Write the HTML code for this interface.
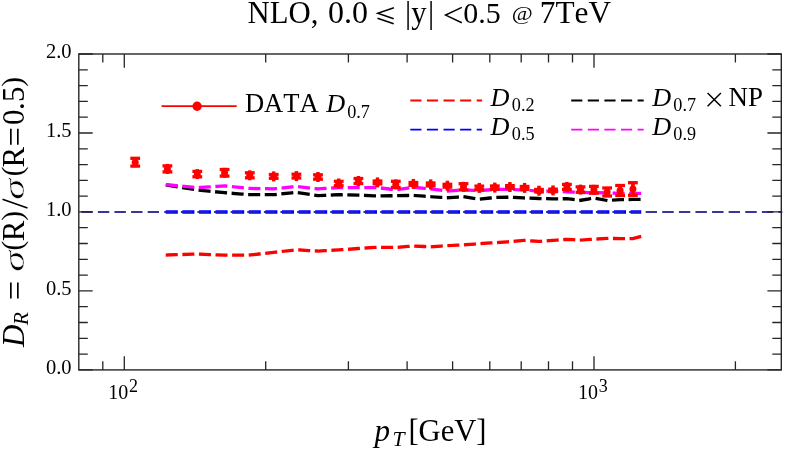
<!DOCTYPE html>
<html><head><meta charset="utf-8"><title>NLO D_R ratio</title>
<style>html,body{margin:0;padding:0;background:#fff;}text{font-kerning:none;}body{width:789px;height:453px;position:relative;overflow:hidden;font-family:"Liberation Serif",serif;}</style>
</head><body>
<svg width="789" height="453" viewBox="0 0 789 453" style="display:block;position:absolute;left:0;top:0;will-change:transform">
<rect x="0" y="0" width="789" height="453" fill="#fff"/>
<line x1="82.3" y1="212" x2="781.3" y2="212" stroke="#38359c" stroke-width="1.9" stroke-dasharray="9.35 7.25" stroke-linecap="square"/>
<polyline points="167.4,212.0 197.3,212.0 224.6,212.0 249.8,212.0 273.7,212.0 296.4,212.0 318.0,212.0 338.7,212.0 358.4,212.0 377.5,212.0 395.8,212.0 413.4,212.0 430.7,212.0 447.4,212.0 463.5,212.0 479.3,212.0 494.8,212.0 509.9,212.0 524.6,212.0 539.0,212.0 553.0,212.0 566.9,212.0 580.5,212.0 593.9,212.0 607.1,212.0 620.1,212.0 632.9,212.0 639.6,212.0" fill="none" stroke="#0000ff" stroke-width="3.3" stroke-dasharray="8.75 7.85" stroke-linecap="square" stroke-linejoin="miter"/>
<polyline points="167.4,255.0 197.3,254.0 224.6,255.2 249.8,255.0 273.7,252.4 296.4,249.8 318.0,251.1 338.7,249.9 358.4,248.5 377.5,247.3 395.8,247.5 413.4,246.0 430.7,246.8 447.4,245.6 463.5,244.9 479.3,243.7 494.8,242.7 509.9,241.6 524.6,240.4 539.0,241.4 553.0,240.4 566.9,239.3 580.5,240.1 593.9,239.2 607.1,238.4 620.1,238.6 632.9,238.6 639.6,236.8" fill="none" stroke="#ff0000" stroke-width="3.3" stroke-dasharray="8.75 7.85" stroke-linecap="square" stroke-linejoin="miter"/>
<polyline points="167.4,185.2 197.3,190.0 224.6,192.7 249.8,194.7 273.7,194.7 296.4,192.3 318.0,195.6 338.7,194.7 358.4,195.2 377.5,195.9 395.8,195.7 413.4,195.4 430.7,196.7 447.4,197.7 463.5,196.7 479.3,199.2 494.8,197.5 509.9,197.2 524.6,198.0 539.0,198.5 553.0,198.9 566.9,198.7 580.5,200.3 593.9,198.0 607.1,200.5 620.1,199.7 632.9,199.4 639.6,199.4" fill="none" stroke="#000000" stroke-width="3.3" stroke-dasharray="8.75 7.85" stroke-linecap="square" stroke-linejoin="miter"/>
<polyline points="167.4,184.7 197.3,187.7 224.6,185.9 249.8,188.4 273.7,188.9 296.4,186.5 318.0,188.9 338.7,187.6 358.4,187.6 377.5,187.6 395.8,189.8 413.4,187.3 430.7,188.9 447.4,191.1 463.5,189.8 479.3,190.6 494.8,189.4 509.9,189.3 524.6,190.1 539.0,191.1 553.0,191.1 566.9,191.8 580.5,192.3 593.9,192.7 607.1,192.8 620.1,193.4 632.9,193.4 639.6,193.4" fill="none" stroke="#ff00ff" stroke-width="3.3" stroke-dasharray="8.75 7.85" stroke-linecap="square" stroke-linejoin="miter"/>
<line x1="82.3" y1="212" x2="781.3" y2="212" stroke="#38359c" stroke-width="1.9" stroke-dasharray="9.35 7.25" stroke-linecap="square" opacity="0.5"/>
<g stroke="#ff0000" fill="#ff0000"><line x1="135.2" y1="158.3" x2="135.2" y2="166.1" stroke-width="2.9"/><line x1="135.2" y1="157.2" x2="135.2" y2="167.2" stroke-width="3.4"/><line x1="130.3" y1="158.3" x2="140.1" y2="158.3" stroke-width="3.3"/><line x1="130.3" y1="166.1" x2="140.1" y2="166.1" stroke-width="3.3"/><circle cx="135.2" cy="162.2" r="3.5" stroke="none"/></g>
<g stroke="#ff0000" fill="#ff0000"><line x1="167.4" y1="165.9" x2="167.4" y2="171.9" stroke-width="2.9"/><line x1="167.4" y1="163.9" x2="167.4" y2="173.9" stroke-width="3.4"/><line x1="162.5" y1="165.9" x2="172.3" y2="165.9" stroke-width="3.3"/><line x1="162.5" y1="171.9" x2="172.3" y2="171.9" stroke-width="3.3"/><circle cx="167.4" cy="168.9" r="3.5" stroke="none"/></g>
<g stroke="#ff0000" fill="#ff0000"><line x1="197.3" y1="171.4" x2="197.3" y2="176.8" stroke-width="2.9"/><line x1="197.3" y1="169.1" x2="197.3" y2="179.1" stroke-width="3.4"/><line x1="192.4" y1="171.4" x2="202.2" y2="171.4" stroke-width="3.3"/><line x1="192.4" y1="176.8" x2="202.2" y2="176.8" stroke-width="3.3"/><circle cx="197.3" cy="174.1" r="3.5" stroke="none"/></g>
<g stroke="#ff0000" fill="#ff0000"><line x1="224.6" y1="169.5" x2="224.6" y2="176.1" stroke-width="2.9"/><line x1="224.6" y1="167.8" x2="224.6" y2="177.8" stroke-width="3.4"/><line x1="219.7" y1="169.5" x2="229.5" y2="169.5" stroke-width="3.3"/><line x1="219.7" y1="176.1" x2="229.5" y2="176.1" stroke-width="3.3"/><circle cx="224.6" cy="172.8" r="3.5" stroke="none"/></g>
<g stroke="#ff0000" fill="#ff0000"><line x1="249.8" y1="172.8" x2="249.8" y2="177.8" stroke-width="2.9"/><line x1="249.8" y1="170.3" x2="249.8" y2="180.3" stroke-width="3.4"/><line x1="244.9" y1="172.8" x2="254.7" y2="172.8" stroke-width="3.3"/><line x1="244.9" y1="177.8" x2="254.7" y2="177.8" stroke-width="3.3"/><circle cx="249.8" cy="175.3" r="3.5" stroke="none"/></g>
<g stroke="#ff0000" fill="#ff0000"><line x1="273.7" y1="174.5" x2="273.7" y2="178.3" stroke-width="2.9"/><line x1="273.7" y1="171.4" x2="273.7" y2="181.4" stroke-width="3.4"/><line x1="268.8" y1="174.5" x2="278.6" y2="174.5" stroke-width="3.3"/><line x1="268.8" y1="178.3" x2="278.6" y2="178.3" stroke-width="3.3"/><circle cx="273.7" cy="176.4" r="3.5" stroke="none"/></g>
<g stroke="#ff0000" fill="#ff0000"><line x1="296.4" y1="174.2" x2="296.4" y2="178.0" stroke-width="2.9"/><line x1="296.4" y1="171.1" x2="296.4" y2="181.1" stroke-width="3.4"/><line x1="291.5" y1="174.2" x2="301.3" y2="174.2" stroke-width="3.3"/><line x1="291.5" y1="178.0" x2="301.3" y2="178.0" stroke-width="3.3"/><circle cx="296.4" cy="176.1" r="3.5" stroke="none"/></g>
<g stroke="#ff0000" fill="#ff0000"><line x1="318.0" y1="174.8" x2="318.0" y2="179.2" stroke-width="2.9"/><line x1="318.0" y1="172.0" x2="318.0" y2="182.0" stroke-width="3.4"/><line x1="313.1" y1="174.8" x2="322.9" y2="174.8" stroke-width="3.3"/><line x1="313.1" y1="179.2" x2="322.9" y2="179.2" stroke-width="3.3"/><circle cx="318.0" cy="177.0" r="3.5" stroke="none"/></g>
<g stroke="#ff0000" fill="#ff0000"><line x1="338.7" y1="181.3" x2="338.7" y2="185.7" stroke-width="2.9"/><line x1="338.7" y1="178.5" x2="338.7" y2="188.5" stroke-width="3.4"/><line x1="333.8" y1="181.3" x2="343.6" y2="181.3" stroke-width="3.3"/><line x1="333.8" y1="185.7" x2="343.6" y2="185.7" stroke-width="3.3"/><circle cx="338.7" cy="183.5" r="3.5" stroke="none"/></g>
<g stroke="#ff0000" fill="#ff0000"><line x1="358.4" y1="178.5" x2="358.4" y2="183.5" stroke-width="2.9"/><line x1="358.4" y1="176.0" x2="358.4" y2="186.0" stroke-width="3.4"/><line x1="353.5" y1="178.5" x2="363.3" y2="178.5" stroke-width="3.3"/><line x1="353.5" y1="183.5" x2="363.3" y2="183.5" stroke-width="3.3"/><circle cx="358.4" cy="181.0" r="3.5" stroke="none"/></g>
<g stroke="#ff0000" fill="#ff0000"><line x1="377.5" y1="181.0" x2="377.5" y2="183.8" stroke-width="2.9"/><line x1="377.5" y1="177.4" x2="377.5" y2="187.4" stroke-width="3.4"/><line x1="372.6" y1="181.0" x2="382.4" y2="181.0" stroke-width="3.3"/><line x1="372.6" y1="183.8" x2="382.4" y2="183.8" stroke-width="3.3"/><circle cx="377.5" cy="182.4" r="3.5" stroke="none"/></g>
<g stroke="#ff0000" fill="#ff0000"><line x1="395.8" y1="181.3" x2="395.8" y2="187.5" stroke-width="2.9"/><line x1="395.8" y1="179.4" x2="395.8" y2="189.4" stroke-width="3.4"/><line x1="390.9" y1="181.3" x2="400.7" y2="181.3" stroke-width="3.3"/><line x1="390.9" y1="187.5" x2="400.7" y2="187.5" stroke-width="3.3"/><circle cx="395.8" cy="184.4" r="3.5" stroke="none"/></g>
<g stroke="#ff0000" fill="#ff0000"><line x1="413.4" y1="182.5" x2="413.4" y2="185.3" stroke-width="2.9"/><line x1="413.4" y1="178.9" x2="413.4" y2="188.9" stroke-width="3.4"/><line x1="408.5" y1="182.5" x2="418.3" y2="182.5" stroke-width="3.3"/><line x1="408.5" y1="185.3" x2="418.3" y2="185.3" stroke-width="3.3"/><circle cx="413.4" cy="183.9" r="3.5" stroke="none"/></g>
<g stroke="#ff0000" fill="#ff0000"><line x1="430.7" y1="183.0" x2="430.7" y2="185.8" stroke-width="2.9"/><line x1="430.7" y1="179.4" x2="430.7" y2="189.4" stroke-width="3.4"/><line x1="425.8" y1="183.0" x2="435.6" y2="183.0" stroke-width="3.3"/><line x1="425.8" y1="185.8" x2="435.6" y2="185.8" stroke-width="3.3"/><circle cx="430.7" cy="184.4" r="3.5" stroke="none"/></g>
<g stroke="#ff0000" fill="#ff0000"><line x1="447.4" y1="184.3" x2="447.4" y2="187.1" stroke-width="2.9"/><line x1="447.4" y1="180.7" x2="447.4" y2="190.7" stroke-width="3.4"/><line x1="442.5" y1="184.3" x2="452.3" y2="184.3" stroke-width="3.3"/><line x1="442.5" y1="187.1" x2="452.3" y2="187.1" stroke-width="3.3"/><circle cx="447.4" cy="185.7" r="3.5" stroke="none"/></g>
<g stroke="#ff0000" fill="#ff0000"><line x1="463.5" y1="183.7" x2="463.5" y2="189.9" stroke-width="2.9"/><line x1="463.5" y1="181.8" x2="463.5" y2="191.8" stroke-width="3.4"/><line x1="458.6" y1="183.7" x2="468.4" y2="183.7" stroke-width="3.3"/><line x1="458.6" y1="189.9" x2="468.4" y2="189.9" stroke-width="3.3"/><circle cx="463.5" cy="186.8" r="3.5" stroke="none"/></g>
<g stroke="#ff0000" fill="#ff0000"><line x1="479.3" y1="186.1" x2="479.3" y2="189.7" stroke-width="2.9"/><line x1="479.3" y1="182.9" x2="479.3" y2="192.9" stroke-width="3.4"/><line x1="474.4" y1="186.1" x2="484.2" y2="186.1" stroke-width="3.3"/><line x1="474.4" y1="189.7" x2="484.2" y2="189.7" stroke-width="3.3"/><circle cx="479.3" cy="187.9" r="3.5" stroke="none"/></g>
<g stroke="#ff0000" fill="#ff0000"><line x1="494.8" y1="186.0" x2="494.8" y2="189.2" stroke-width="2.9"/><line x1="494.8" y1="182.6" x2="494.8" y2="192.6" stroke-width="3.4"/><line x1="489.9" y1="186.0" x2="499.7" y2="186.0" stroke-width="3.3"/><line x1="489.9" y1="189.2" x2="499.7" y2="189.2" stroke-width="3.3"/><circle cx="494.8" cy="187.6" r="3.5" stroke="none"/></g>
<g stroke="#ff0000" fill="#ff0000"><line x1="509.9" y1="185.6" x2="509.9" y2="188.4" stroke-width="2.9"/><line x1="509.9" y1="182.0" x2="509.9" y2="192.0" stroke-width="3.4"/><line x1="505.0" y1="185.6" x2="514.8" y2="185.6" stroke-width="3.3"/><line x1="505.0" y1="188.4" x2="514.8" y2="188.4" stroke-width="3.3"/><circle cx="509.9" cy="187.0" r="3.5" stroke="none"/></g>
<g stroke="#ff0000" fill="#ff0000"><line x1="524.6" y1="186.5" x2="524.6" y2="189.3" stroke-width="2.9"/><line x1="524.6" y1="182.9" x2="524.6" y2="192.9" stroke-width="3.4"/><line x1="519.7" y1="186.5" x2="529.5" y2="186.5" stroke-width="3.3"/><line x1="519.7" y1="189.3" x2="529.5" y2="189.3" stroke-width="3.3"/><circle cx="524.6" cy="187.9" r="3.5" stroke="none"/></g>
<g stroke="#ff0000" fill="#ff0000"><line x1="539.0" y1="189.5" x2="539.0" y2="191.9" stroke-width="2.9"/><line x1="539.0" y1="185.7" x2="539.0" y2="195.7" stroke-width="3.4"/><line x1="534.1" y1="189.5" x2="543.9" y2="189.5" stroke-width="3.3"/><line x1="534.1" y1="191.9" x2="543.9" y2="191.9" stroke-width="3.3"/><circle cx="539.0" cy="190.7" r="3.5" stroke="none"/></g>
<g stroke="#ff0000" fill="#ff0000"><line x1="553.0" y1="189.2" x2="553.0" y2="191.6" stroke-width="2.9"/><line x1="553.0" y1="185.4" x2="553.0" y2="195.4" stroke-width="3.4"/><line x1="548.1" y1="189.2" x2="557.9" y2="189.2" stroke-width="3.3"/><line x1="548.1" y1="191.6" x2="557.9" y2="191.6" stroke-width="3.3"/><circle cx="553.0" cy="190.4" r="3.5" stroke="none"/></g>
<g stroke="#ff0000" fill="#ff0000"><line x1="566.9" y1="184.4" x2="566.9" y2="189.4" stroke-width="2.9"/><line x1="566.9" y1="181.9" x2="566.9" y2="191.9" stroke-width="3.4"/><line x1="562.0" y1="184.4" x2="571.8" y2="184.4" stroke-width="3.3"/><line x1="562.0" y1="189.4" x2="571.8" y2="189.4" stroke-width="3.3"/><circle cx="566.9" cy="186.9" r="3.5" stroke="none"/></g>
<g stroke="#ff0000" fill="#ff0000"><line x1="580.5" y1="186.9" x2="580.5" y2="192.3" stroke-width="2.9"/><line x1="580.5" y1="184.6" x2="580.5" y2="194.6" stroke-width="3.4"/><line x1="575.6" y1="186.9" x2="585.4" y2="186.9" stroke-width="3.3"/><line x1="575.6" y1="192.3" x2="585.4" y2="192.3" stroke-width="3.3"/><circle cx="580.5" cy="189.6" r="3.5" stroke="none"/></g>
<g stroke="#ff0000" fill="#ff0000"><line x1="593.9" y1="186.4" x2="593.9" y2="193.2" stroke-width="2.9"/><line x1="593.9" y1="184.8" x2="593.9" y2="194.8" stroke-width="3.4"/><line x1="589.0" y1="186.4" x2="598.8" y2="186.4" stroke-width="3.3"/><line x1="589.0" y1="193.2" x2="598.8" y2="193.2" stroke-width="3.3"/><circle cx="593.9" cy="189.8" r="3.5" stroke="none"/></g>
<g stroke="#ff0000" fill="#ff0000"><line x1="607.1" y1="188.0" x2="607.1" y2="196.0" stroke-width="2.9"/><line x1="607.1" y1="187.0" x2="607.1" y2="197.0" stroke-width="3.4"/><line x1="602.2" y1="188.0" x2="612.0" y2="188.0" stroke-width="3.3"/><line x1="602.2" y1="196.0" x2="612.0" y2="196.0" stroke-width="3.3"/><circle cx="607.1" cy="192.0" r="3.5" stroke="none"/></g>
<g stroke="#ff0000" fill="#ff0000"><line x1="620.1" y1="185.5" x2="620.1" y2="195.5" stroke-width="2.9"/><line x1="620.1" y1="185.5" x2="620.1" y2="195.5" stroke-width="3.4"/><line x1="615.2" y1="185.5" x2="625.0" y2="185.5" stroke-width="3.3"/><line x1="615.2" y1="195.5" x2="625.0" y2="195.5" stroke-width="3.3"/><circle cx="620.1" cy="190.5" r="3.5" stroke="none"/></g>
<g stroke="#ff0000" fill="#ff0000"><line x1="632.9" y1="182.7" x2="632.9" y2="195.3" stroke-width="2.9"/><line x1="632.9" y1="184.0" x2="632.9" y2="194.0" stroke-width="3.4"/><line x1="628.0" y1="182.7" x2="637.8" y2="182.7" stroke-width="3.3"/><line x1="628.0" y1="195.3" x2="637.8" y2="195.3" stroke-width="3.3"/><circle cx="632.9" cy="189.0" r="3.5" stroke="none"/></g>
<rect x="78.8" y="54.0" width="702.5" height="315.9" fill="none" stroke="#262626" stroke-width="1.4"/>
<path d="M102.8 369.9v-8.6M102.8 54.0v8.6M124.3 369.9v-13.7M124.3 54.0v13.7M265.7 369.9v-8.6M265.7 54.0v8.6M348.4 369.9v-8.6M348.4 54.0v8.6M407.1 369.9v-8.6M407.1 54.0v8.6M452.6 369.9v-8.6M452.6 54.0v8.6M489.8 369.9v-8.6M489.8 54.0v8.6M521.2 369.9v-8.6M521.2 54.0v8.6M548.5 369.9v-8.6M548.5 54.0v8.6M572.5 369.9v-8.6M572.5 54.0v8.6M594.0 369.9v-13.7M594.0 54.0v13.7M735.4 369.9v-8.6M735.4 54.0v8.6M78.8 369.9h13.9M781.3 369.9h-13.9M78.8 354.1h9.0M781.3 354.1h-9.0M78.8 338.3h9.0M781.3 338.3h-9.0M78.8 322.5h9.0M781.3 322.5h-9.0M78.8 306.7h9.0M781.3 306.7h-9.0M78.8 290.9h13.9M781.3 290.9h-13.9M78.8 275.1h9.0M781.3 275.1h-9.0M78.8 259.3h9.0M781.3 259.3h-9.0M78.8 243.5h9.0M781.3 243.5h-9.0M78.8 227.7h9.0M781.3 227.7h-9.0M78.8 211.9h13.9M781.3 211.9h-13.9M78.8 196.2h9.0M781.3 196.2h-9.0M78.8 180.4h9.0M781.3 180.4h-9.0M78.8 164.6h9.0M781.3 164.6h-9.0M78.8 148.8h9.0M781.3 148.8h-9.0M78.8 133.0h13.9M781.3 133.0h-13.9M78.8 117.2h9.0M781.3 117.2h-9.0M78.8 101.4h9.0M781.3 101.4h-9.0M78.8 85.6h9.0M781.3 85.6h-9.0M78.8 69.8h9.0M781.3 69.8h-9.0M78.8 54.0h13.9M781.3 54.0h-13.9" stroke="#262626" stroke-width="1.3" fill="none"/>
<text x="71.6" y="374.2" font-family="Liberation Serif, serif" font-size="20.5" text-anchor="end" fill="#000">0.0</text>
<text x="71.6" y="295.2" font-family="Liberation Serif, serif" font-size="20.5" text-anchor="end" fill="#000">0.5</text>
<text x="71.6" y="216.2" font-family="Liberation Serif, serif" font-size="20.5" text-anchor="end" fill="#000">1.0</text>
<text x="71.6" y="137.3" font-family="Liberation Serif, serif" font-size="20.5" text-anchor="end" fill="#000">1.5</text>
<text x="71.6" y="58.3" font-family="Liberation Serif, serif" font-size="20.5" text-anchor="end" fill="#000">2.0</text>
<text x="108.3" y="399.4" font-family="Liberation Serif, serif" font-size="20" fill="#000">10</text>
<text x="129.1" y="392.2" font-family="Liberation Serif, serif" font-size="18" fill="#000">2</text>
<text x="578.0" y="399.4" font-family="Liberation Serif, serif" font-size="20" fill="#000">10</text>
<text x="598.8" y="392.2" font-family="Liberation Serif, serif" font-size="18" fill="#000">3</text>
<text x="247.6" y="23.1" font-family="Liberation Serif, serif" font-size="30.7" fill="#000">NLO,</text>
<text x="328.0" y="23.1" font-family="Liberation Serif, serif" font-size="32" fill="#000">0.0</text>
<path d="M393.9 7.7L377.7 13.2L393.7 18.7M377.5 18.3L393.7 23.8" fill="none" stroke="#000" stroke-width="1.45"/>
<text x="405.0" y="23.1" font-family="Liberation Serif, serif" font-size="30.7" fill="#000">|</text>
<text x="411.3" y="23.1" font-family="Liberation Serif, serif" font-size="30.7" fill="#000">y</text>
<text x="427.9" y="23.1" font-family="Liberation Serif, serif" font-size="30.7" fill="#000">|</text>
<path d="M461.8 7.4L445.6 15.1L461.8 22.8" fill="none" stroke="#000" stroke-width="1.5"/>
<text x="463.2" y="23.1" font-family="Liberation Serif, serif" font-size="30" fill="#000">0.5</text>
<text transform="translate(511.8 20.3) scale(1.17 1)" x="0" y="0" font-family="Liberation Serif, serif" font-size="19.5" fill="#000">@</text>
<text x="539.8" y="23.1" font-family="Liberation Serif, serif" font-size="31.3" fill="#000">7TeV</text>
<text x="374.6" y="441.2" font-family="Liberation Serif, serif" font-size="31" font-style="italic" fill="#000">p</text>
<text x="392.6" y="446.1" font-family="Liberation Serif, serif" font-size="21.7" font-style="italic" fill="#000">T</text>
<text x="408.4" y="441.0" font-family="Liberation Serif, serif" font-size="30.6" fill="#000">[GeV]</text>
<g transform="translate(23.5 347.8) rotate(-90)" font-family="Liberation Serif, serif" font-size="31" fill="#000">
<text x="0.7" y="0" font-style="italic">D</text>
<text x="22.6" y="4.8" font-size="21.5" font-style="italic">R</text>
<text x="47.5" y="2.7" font-size="34.5">=</text>
<text transform="translate(76.0 0) scale(1.42 1)" x="0" y="0" font-size="30" font-style="italic" stroke="#fff" stroke-width="0.5">σ</text>
<text x="97.4" y="-1.6" font-size="29">(</text><text x="106.6" y="0">R</text><text x="127.0" y="-1.6" font-size="29">)</text>
<line x1="139.7" y1="4.0" x2="148.5" y2="-21.0" stroke="#000" stroke-width="1.6"/>
<text transform="translate(148.1 0) scale(1.42 1)" x="0" y="0" font-size="30" font-style="italic" stroke="#fff" stroke-width="0.5">σ</text>
<text x="171.5" y="-1.6" font-size="29">(</text><text x="180.4" y="0">R</text><text x="201.4" y="2.7" font-size="34.5">=</text><text x="222.7" y="0">0</text><text x="237.9" y="0">.</text><text x="245.7" y="0">5</text><text x="261.1" y="-1.6" font-size="29">)</text>
</g>
<line x1="161.6" y1="106.2" x2="236.7" y2="106.2" stroke="#f00" stroke-width="1.7"/><circle cx="197.1" cy="106.2" r="4.7" fill="#f00"/>
<text x="244.9" y="112.1" font-family="Liberation Serif, serif" font-size="26.6" fill="#000">DATA</text>
<text x="326.2" y="112.2" font-family="Liberation Serif, serif" font-size="26.2" font-style="italic" fill="#000">D</text><text x="347.2" y="117.5" font-family="Liberation Serif, serif" font-size="18.2" fill="#000">0.7</text>
<line x1="411.2" y1="100.5" x2="481.20000000000005" y2="100.5" stroke="#f00" stroke-width="1.8" stroke-dasharray="9.35 7.25" stroke-linecap="square"/>
<text x="490.6" y="106.2" font-family="Liberation Serif, serif" font-size="26.2" font-style="italic" fill="#000">D</text><text x="511.8" y="110.8" font-family="Liberation Serif, serif" font-size="18.2" fill="#000">0.2</text>
<line x1="411.2" y1="129.7" x2="481.20000000000005" y2="129.7" stroke="#00f" stroke-width="1.8" stroke-dasharray="9.35 7.25" stroke-linecap="square"/>
<text x="490.6" y="134.8" font-family="Liberation Serif, serif" font-size="26.2" font-style="italic" fill="#000">D</text><text x="511.8" y="140.0" font-family="Liberation Serif, serif" font-size="18.2" fill="#000">0.5</text>
<line x1="572.1" y1="100.5" x2="642.8000000000001" y2="100.5" stroke="#000" stroke-width="1.8" stroke-dasharray="9.35 7.25" stroke-linecap="square"/>
<text x="652.2" y="106.4" font-family="Liberation Serif, serif" font-size="26.2" font-style="italic" fill="#000">D</text><text x="673.3" y="110.8" font-family="Liberation Serif, serif" font-size="18.2" fill="#000">0.7</text>
<line x1="572.1" y1="129.7" x2="642.8000000000001" y2="129.7" stroke="#f0f" stroke-width="1.8" stroke-dasharray="9.35 7.25" stroke-linecap="square"/>
<text x="652.2" y="134.8" font-family="Liberation Serif, serif" font-size="26.2" font-style="italic" fill="#000">D</text><text x="673.3" y="140.0" font-family="Liberation Serif, serif" font-size="18.2" fill="#000">0.9</text>
<path d="M707.6 93L720.9 106.3M707.6 106.3L720.9 93" stroke="#000" stroke-width="1.5" fill="none"/>
<text x="728.6" y="106.4" font-family="Liberation Serif, serif" font-size="26.9" fill="#000">NP</text>
</svg>
</body></html>
